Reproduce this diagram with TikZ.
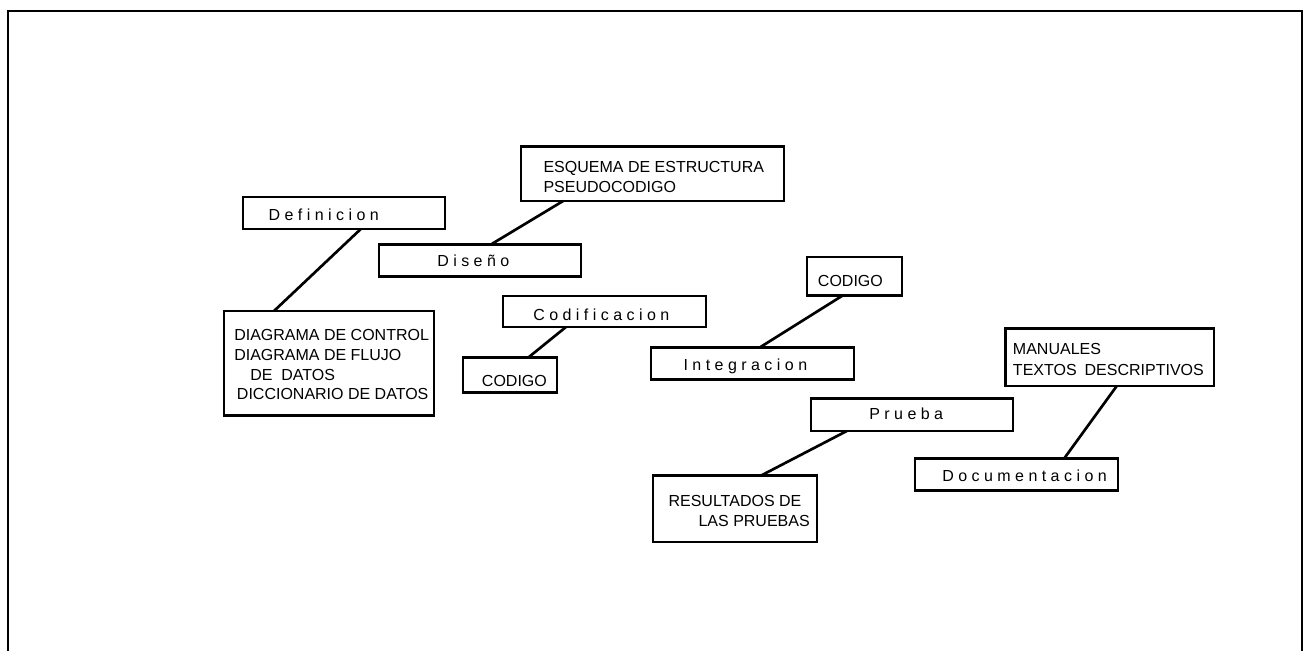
\documentclass[tikz,border=0pt]{standalone}
\usepackage{fontspec}
\setmainfont{Liberation Sans}
\usetikzlibrary{calc}
\tikzset{
  box/.style={draw, line width=2pt, inner sep=0pt, outer sep=0pt, anchor=north west},
  conn/.style={line width=2pt},
  frame/.style={line width=1.5pt},
  txt/.style={anchor=base west, inner sep=0pt, font=\fontsize{12}{15}\selectfont}
}
\begin{document}
\begin{tikzpicture}[x=0.75pt, y=-0.75pt]
\useasboundingbox (0,0) rectangle (1308,651);
\draw[frame] (7.7,651) -- (7.7,11.3) -- (1302.3,11.3) -- (1302.3,651);

% boxes
\node[box, minimum width=202*0.75pt, minimum height=32*0.75pt] (def) at (243,197) {};
\node[box, minimum width=202*0.75pt, minimum height=32*0.75pt] (dis) at (379,244.5) {};
\node[box, minimum width=263*0.75pt, minimum height=54.5*0.75pt] (esq) at (521,146.5) {};
\node[box, minimum width=210*0.75pt, minimum height=104.5*0.75pt] (dia) at (224,311) {};
\node[box, minimum width=203*0.75pt, minimum height=31*0.75pt] (cod) at (503,296) {};
\node[box, minimum width=94*0.75pt, minimum height=35.2*0.75pt] (codL) at (463,357.5) {};
\node[box, minimum width=95*0.75pt, minimum height=38.7*0.75pt] (codR) at (807,257) {};
\node[box, minimum width=203*0.75pt, minimum height=32.2*0.75pt] (int) at (651,347.3) {};
\node[box, minimum width=208.3*0.75pt, minimum height=57.7*0.75pt] (man) at (1005.7,328.3) {};
\node[box, minimum width=202*0.75pt, minimum height=32.7*0.75pt] (pru) at (811,398.3) {};
\node[box, minimum width=164*0.75pt, minimum height=66.3*0.75pt] (res) at (653,475.7) {};
\node[box, minimum width=203*0.75pt, minimum height=32*0.75pt] (doc) at (915,458.7) {};

% texts
\node[txt] (defT) at (268.3,220.7) {D e f i n i c i o n};
\node[txt] (disT) at (437,266.7) {D i s e ñ o};
\node[txt] (esqT1) at (543.3,172.3) {ESQUEMA DE ESTRUCTURA};
\node[txt] (esqT2) at (543.3,192.3) {PSEUDOCODIGO};
\node[txt] (diaT1) at (234,340.7) {DIAGRAMA DE CONTROL};
\node[txt] (diaT2) at (234,360.3) {DIAGRAMA DE FLUJO};
\node[txt] (diaT3) at (250,380) {DE\ \ DATOS};
\node[txt] (diaT4) at (236.7,399.7) {DICCIONARIO DE DATOS};
\node[txt] (codT) at (533,320) {C o d i f i c a c i o n};
\node[txt] (codLT) at (481.7,386.7) {CODIGO};
\node[txt] (codRT) at (817.7,286.7) {CODIGO};
\node[txt] (intT) at (683.3,370.7) {I n t e g r a c i o n};
\node[txt] (manT1) at (1012.7,354.3) {MANUALES};
\node[txt] (manT2) at (1012.7,375) {TEXTOS\hspace{6pt}DESCRIPTIVOS};
\node[txt] (pruT) at (869,419.3) {P r u e b a};
\node[txt] (resT1) at (668.3,506) {RESULTADOS DE};
\node[txt] (resT2) at (698.3,526) {LAS PRUEBAS};
\node[txt] (docT) at (942,481.7) {D o c u m e n t a c i o n};

% connectors
\draw[conn] ($(esq.south west)!0.160!(esq.south east)$) -- ($(dis.north west)!0.554!(dis.north east)$);
\draw[conn] ($(def.south west)!0.583!(def.south east)$) -- ($(dia.north west)!0.238!(dia.north east)$);
\draw[conn] ($(cod.south west)!0.310!(cod.south east)$) -- ($(codL.north west)!0.695!(codL.north east)$);
\draw[conn] ($(codR.south west)!0.372!(codR.south east)$) -- ($(int.north west)!0.537!(int.north east)$);
\draw[conn] ($(pru.south west)!0.177!(pru.south east)$) -- ($(res.north west)!0.657!(res.north east)$);
\draw[conn] ($(man.south west)!0.533!(man.south east)$) -- ($(doc.north west)!0.734!(doc.north east)$);
\end{tikzpicture}
\end{document}
